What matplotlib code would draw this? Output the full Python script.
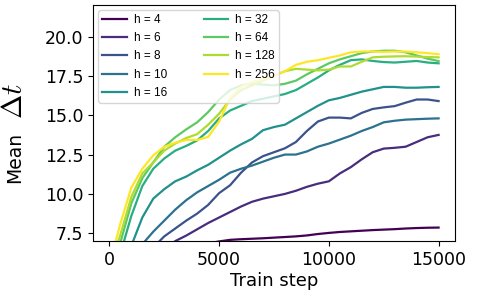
import numpy as np
import matplotlib
matplotlib.use("Agg")
import matplotlib.pyplot as plt

plt.rcParams['mathtext.fontset'] = 'cm'

steps = np.arange(0, 15001, 500)
hs = [4, 6, 8, 10, 16, 32, 64, 128, 256]

h4 = [4.5, 4.9, 5.3, 5.6, 5.9, 6.1, 6.35, 6.55, 6.7, 6.85, 6.98, 7.08, 7.12, 7.15, 7.18, 7.22,
      7.26, 7.3, 7.36, 7.45, 7.52, 7.58, 7.62, 7.66, 7.7, 7.73, 7.76, 7.8, 7.83, 7.85, 7.86]
h6 = [3.0, 3.6, 4.3, 5.0, 5.7, 6.4, 7.0, 7.35, 7.75, 8.15, 8.5, 8.85, 9.2, 9.5, 9.7, 9.85,
      10.0, 10.2, 10.45, 10.65, 10.8, 11.3, 11.7, 12.2, 12.65, 12.88, 12.93, 13.0, 13.3, 13.6, 13.75]
h8 = [3.5, 4.2, 5.0, 5.8, 6.6, 7.3, 7.8, 8.3, 8.75, 9.3, 10.05, 10.55, 11.35, 12.0, 12.4, 12.65,
      12.9, 13.3, 14.0, 14.6, 14.85, 14.85, 14.8, 15.15, 15.4, 15.5, 15.58, 15.8, 16.0, 16.0, 15.9]
h10 = [4.0, 5.0, 5.9, 6.8, 7.6, 8.3, 9.0, 9.6, 10.1, 10.5, 10.9, 11.35, 11.6, 11.8, 12.05, 12.3,
       12.5, 12.5, 12.7, 13.0, 13.2, 13.45, 13.7, 14.0, 14.25, 14.55, 14.65, 14.72, 14.75, 14.78, 14.8]
h16 = [4.5, 5.5, 6.7, 8.5, 9.7, 10.3, 10.8, 11.1, 11.5, 11.85, 12.3, 12.75, 13.15, 13.5, 14.05, 14.25,
       14.4, 14.8, 15.2, 15.6, 15.95, 16.1, 16.3, 16.5, 16.65, 16.8, 16.8, 16.75, 16.75, 16.78, 16.8]
h32 = [4.0, 6.2, 8.6, 10.5, 11.6, 12.25, 12.75, 13.05, 13.4, 14.0, 14.8, 15.3, 15.6, 15.9, 16.05, 16.2,
       16.35, 16.6, 17.0, 17.4, 17.85, 18.2, 18.5, 18.55, 18.45, 18.38, 18.35, 18.4, 18.45, 18.35, 18.3]
h64 = [4.8, 6.9, 9.4, 11.0, 12.0, 13.0, 13.6, 14.1, 14.55, 15.2, 16.0, 16.6, 16.9, 17.0, 16.95, 16.9,
       17.0, 17.2, 17.6, 17.95, 18.3, 18.55, 18.75, 18.95, 19.05, 19.1, 19.1, 19.0, 18.8, 18.6, 18.44]
h128 = [5.2, 7.4, 9.8, 11.3, 12.0, 12.75, 13.2, 13.55, 13.8, 14.4, 15.1, 16.0, 16.6, 16.9, 17.2, 17.5,
        17.8, 17.95, 17.9, 17.85, 17.9, 18.1, 18.1, 18.4, 18.68, 18.72, 18.74, 18.75, 18.73, 18.7, 18.68]
h256 = [5.5, 8.1, 10.4, 11.6, 12.45, 13.0, 13.25, 13.43, 13.43, 13.62, 14.6, 16.1, 16.8, 17.1, 17.3, 17.5,
        17.8, 18.2, 18.4, 18.5, 18.65, 18.8, 19.0, 19.05, 19.05, 19.03, 19.05, 19.05, 19.0, 18.95, 18.88]

series = [h4, h6, h8, h10, h16, h32, h64, h128, h256]
colors = plt.cm.viridis(np.linspace(0, 1, len(hs)))

fig = plt.figure(figsize=(4.79, 3.01), dpi=100)
ax = fig.add_axes([0.194, 0.199, 0.756, 0.784])
for h, vals, c in zip(hs, series, colors):
    ax.plot(steps, vals, color=c, lw=1.6, label=f"h = {h}")

ax.set_ylim(7, 22)
ax.set_xticks([0, 5000, 10000, 15000])
ax.set_yticks([7.5, 10.0, 12.5, 15.0, 17.5, 20.0])
ax.tick_params(labelsize=12.5)
ax.set_xlabel("Train step", fontsize=13, labelpad=2)
# y label: "Mean" in text font, bigger italic math part
fig.text(15 / 479, 1 - 157 / 301, "Mean", rotation=90, fontsize=13.5, ha="center", va="center")
fig.text(14 / 479, 1 - 101 / 301, r"$\mathit{\Delta} t$", rotation=90, fontsize=21, ha="center", va="center")

ax.legend(loc="upper left", ncol=2, prop={"family": "Liberation Sans", "size": 8.5},
          handlelength=2.1, handletextpad=0.6, borderaxespad=0.45, borderpad=0.3,
          columnspacing=3.1, labelspacing=0.53)

fig.savefig("out.png", dpi=100)
